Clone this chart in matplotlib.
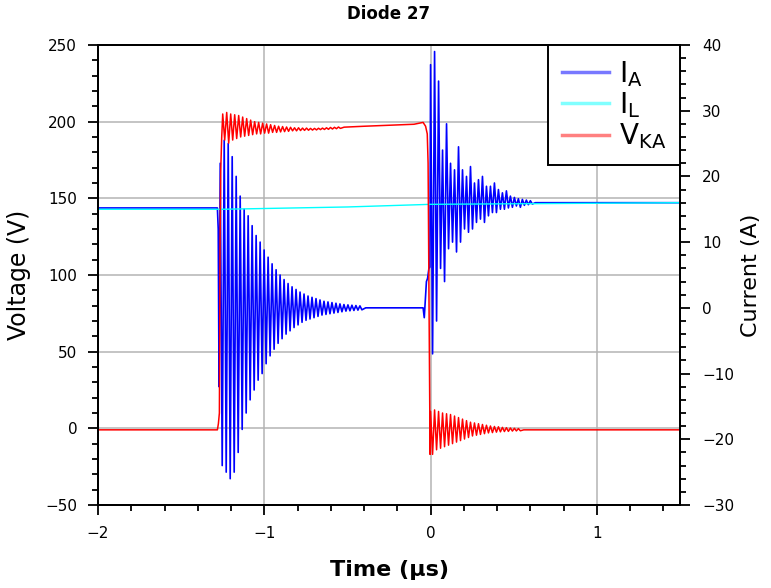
import numpy as np
import matplotlib
matplotlib.use("Agg")
import matplotlib.pyplot as plt
from matplotlib.lines import Line2D
from matplotlib.ticker import MultipleLocator

plt.rcParams['font.family'] = ['DejaVu Sans']
plt.rcParams['mathtext.fontset'] = 'dejavusans'

# ---- data (time in us) ----
# V_KA (V): flat parts as breakpoints, ringing as peak / trough per cycle
va_pre_t = [-2.0, -1.282, -1.276, -1.270, -1.266, -1.262, -1.256]
va_pre_v = [-1.0, -1.0, 3.0, 10.0, 120.0, 168.0, 190.0]
va_on_t0 = -1.250
va_on_hi = [205, 206, 205, 204.5, 204, 203, 202, 201, 200, 199.5, 199, 198.5, 198,
            197.5, 197, 196.8, 196.5, 196.3, 196, 196, 195.8, 195.8, 195.6, 195.6,
            195.7, 195.8, 196, 196.2, 196.3, 196.5]
va_on_lo = [188, 186, 188, 189, 190, 190.5, 191, 191.5, 192, 192, 192.5, 192.5,
            193, 193, 193.3, 193.5, 193.7, 194, 194, 194.2, 194.3, 194.4, 194.5, 194.6,
            194.8, 194.9, 195, 195.2, 195.4, 195.6]
va_mid_t = [-0.52, -0.40, -0.10, -0.045, -0.030, -0.020, -0.015, -0.008, -0.003]
va_mid_v = [196.4, 197.0, 198.3, 199.5, 197.0, 192.0, 173.0, 60.0, -17.0]
va_off_t0 = 0.0
va_off_hi = [11, 12, 11, 10, 9.5, 9, 8, 7, 6, 5, 4, 3.5, 3, 2.5, 2, 1.5, 1.2, 1,
             0.6, 0.4, 0.2, 0, -0.2]
va_off_lo = [-17, -14, -13, -12, -11, -10, -9, -8, -7, -6, -5, -4.5, -4, -3.5, -3,
             -2.8, -2.5, -2.3, -2.1, -2, -1.8, -1.7, -1.6]
va_end_t = [0.56, 1.5]
va_end_v = [-1.0, -1.0]

# I_A (A)
ia_pre_t = [-2.0, -1.282, -1.277, -1.272]
ia_pre_v = [15.2, 15.2, 12.0, -12.0]
ia_on_t0 = -1.265
ia_on_hi = [22, 25.5, 25, 23, 20, 17, 15, 14, 12.5, 11, 10, 8.8, 7.7, 6.7, 5.8, 5,
            4.3, 3.7, 3.2, 2.8, 2.4, 2.1, 1.8, 1.6, 1.4, 1.2, 1.0, 0.9, 0.8, 0.7,
            0.6, 0.5, 0.45, 0.4, 0.35, 0.3]
ia_on_lo = [-24, -25, -26, -25, -22, -18.5, -16, -14, -12.5, -11, -10, -8.5, -7.3,
            -6.3, -5.4, -4.7, -4, -3.5, -3, -2.6, -2.2, -1.9, -1.7, -1.5, -1.3, -1.1,
            -1.0, -0.9, -0.8, -0.7, -0.6, -0.5, -0.45, -0.4, -0.35, -0.3]
ia_mid_t = [-0.39, -0.045, -0.038, -0.032, -0.025, -0.018, -0.010, -0.004]
ia_mid_v = [0.0, 0.0, -1.5, 1.0, 4.0, 4.5, 6.0, 6.2]
ia_off_t0 = 0.0
ia_off_hi = [37, 39, 34.5, 24, 28, 22, 21, 24.5, 21, 20, 21.5, 19, 19.5, 20, 18.5,
             18.5, 19, 18, 17.5, 17.8, 17, 16.8, 16.6, 16.5, 16.4, 16.3]
ia_off_lo = [-7, -2, 6, 4, 9, 10, 8.5, 10, 12, 11.5, 12, 13, 13.5, 13, 14, 14.5,
             14.5, 15, 15, 15.2, 15.3, 15.5, 15.3, 15.6, 15.7, 15.8]
ia_end_t = [0.63, 1.5]
ia_end_v = [16.0, 16.0]

# I_L (A)
il_t = [-2.0, -1.25, -0.5, 0.0, 1.5]
il_v = [15.0, 15.0, 15.35, 15.75, 16.0]

half_period = 0.012


def ring(t0, hi, lo):
    # interleave peak / trough values, one every half period
    v = np.column_stack([hi, lo]).ravel()
    t = t0 + half_period * np.arange(len(v))
    return t, v


def trace(pre_t, pre_v, on_t0, on_hi, on_lo, mid_t, mid_v, off_t0, off_hi, off_lo, end_t, end_v):
    t1, v1 = ring(on_t0, on_hi, on_lo)
    t2, v2 = ring(off_t0, off_hi, off_lo)
    t = np.concatenate([pre_t, t1, mid_t, t2, end_t])
    v = np.concatenate([pre_v, v1, mid_v, v2, end_v])
    return t, v


va_t, va_v = trace(va_pre_t, va_pre_v, va_on_t0, va_on_hi, va_on_lo, va_mid_t, va_mid_v,
                   va_off_t0, va_off_hi, va_off_lo, va_end_t, va_end_v)
ia_t, ia_v = trace(ia_pre_t, ia_pre_v, ia_on_t0, ia_on_hi, ia_on_lo, ia_mid_t, ia_mid_v,
                   ia_off_t0, ia_off_hi, ia_off_lo, ia_end_t, ia_end_v)

fig = plt.figure(figsize=(7.71, 5.88), dpi=100)
ax = fig.add_axes([0.1271, 0.1412, 0.7549, 0.7823])
ax2 = ax.twinx()

ax.set_xlim(-2, 1.5)
ax.set_ylim(-50, 250)
ax2.set_ylim(-30, 40)

ax.grid(True, color='#b4b4b4', linewidth=1.1)
ax.set_axisbelow(True)

ax2.plot(ia_t, ia_v, color='#0000ff', linewidth=1.2)
ax2.plot(il_t, il_v, color='#00ffff', linewidth=1.0)
# red drawn in voltage units but on top of the current traces
ax2.plot(va_t, va_v, color='#ff0000', linewidth=1.1, transform=ax.transData)
ax2.set_ylim(-30, 40)

ax.xaxis.set_major_locator(MultipleLocator(1))
ax.xaxis.set_minor_locator(MultipleLocator(0.2))
ax.yaxis.set_major_locator(MultipleLocator(50))
ax.yaxis.set_minor_locator(MultipleLocator(10))
ax2.yaxis.set_major_locator(MultipleLocator(10))
ax2.yaxis.set_minor_locator(MultipleLocator(2))

for a in (ax, ax2):
    a.tick_params(which='major', direction='out', length=7, width=1.3, labelsize=11, pad=8)
    a.tick_params(which='minor', direction='out', length=4, width=1.3)
    for s in a.spines.values():
        s.set_linewidth(1.4)
ax2.tick_params(axis='y', which='major', pad=9)

ax.set_title("Diode 27", fontsize=12, fontweight='bold', pad=19)
ax.set_xlabel("Time (µs)", fontsize=16, fontweight='bold', labelpad=14)
ax.set_ylabel("Voltage (V)", fontsize=17, labelpad=10)
ax2.set_ylabel("Current (A)", fontsize=16, labelpad=5)

handles = [Line2D([], [], color='#7878ff', linewidth=2.5),
           Line2D([], [], color='#80ffff', linewidth=2.5),
           Line2D([], [], color='#ff8080', linewidth=2.5)]
leg = ax2.legend(handles, ['$\\mathregular{I_A}$', '$\\mathregular{I_L}$', '$\\mathregular{V_{KA}}$'],
                 loc='upper right', fontsize=20, frameon=True, fancybox=False,
                 borderaxespad=0, handlelength=1.7, handletextpad=0.35,
                 labelspacing=0.05, borderpad=0.5)
leg.get_frame().set_edgecolor('black')
leg.get_frame().set_linewidth(1.4)
leg.get_frame().set_alpha(1)

fig.savefig("out.png", dpi=100)
